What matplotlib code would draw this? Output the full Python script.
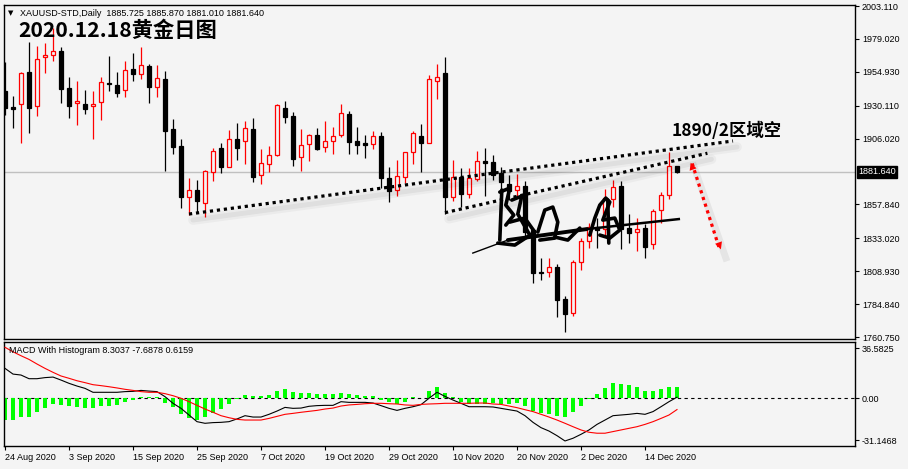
import matplotlib
matplotlib.use('Agg')
import matplotlib.pyplot as plt
import matplotlib.transforms as mtransforms
import numpy as np

# XAUUSD daily, 24 Aug 2020 .. 18 Dec 2020 (one bar per weekday)
opens = [1940.9, 1929.2, 1931.1, 1954.6, 1929.7, 1965.5, 1967.0, 1970.2, 1942.8, 1932.1,
         1931.4, 1929.7, 1932.6, 1947.0, 1945.3, 1941.4, 1957.0, 1953.1, 1959.4, 1943.6,
         1949.7, 1913.0, 1900.6, 1863.5, 1868.4, 1859.1, 1881.3, 1898.9, 1885.4, 1905.7,
         1904.3, 1913.0, 1879.1, 1887.2, 1893.8, 1928.4, 1922.6, 1892.3, 1901.8, 1908.7,
         1899.6, 1904.0, 1908.4, 1924.0, 1904.3, 1902.6, 1901.8, 1907.9, 1877.4, 1868.2,
         1877.7, 1896.0, 1907.9, 1902.6, 1948.0, 1953.8, 1863.5, 1877.7, 1865.7, 1876.7,
         1889.4, 1888.7, 1880.6, 1872.8, 1868.4, 1871.0, 1839.1, 1808.3, 1808.1, 1811.8,
         1788.4, 1778.0, 1815.4, 1830.8, 1841.1, 1839.5, 1862.0, 1871.3, 1840.8, 1837.6,
         1840.8, 1828.6, 1853.4, 1864.5, 1885.725]
highs = [1962.1, 1937.2, 1954.6, 1976.5, 1973.8, 1975.8, 1987.0, 1973.3, 1951.1, 1948.2,
         1941.6, 1940.9, 1951.1, 1966.7, 1954.6, 1962.8, 1968.7, 1973.1, 1960.6, 1959.9,
         1955.5, 1920.4, 1905.7, 1877.4, 1875.7, 1883.0, 1898.9, 1903.0, 1912.3, 1917.7,
         1918.9, 1920.9, 1898.2, 1900.6, 1931.4, 1933.8, 1925.5, 1913.0, 1909.4, 1913.8,
         1919.1, 1914.5, 1931.4, 1926.2, 1914.5, 1908.4, 1911.8, 1911.1, 1885.2, 1890.3,
         1896.4, 1911.4, 1916.7, 1952.6, 1960.6, 1966.0, 1890.3, 1884.5, 1884.5, 1896.9,
         1898.9, 1893.8, 1885.2, 1879.4, 1879.9, 1875.0, 1840.6, 1818.6, 1818.4, 1814.0,
         1790.8, 1817.5, 1833.0, 1844.0, 1848.0, 1868.9, 1875.7, 1875.0, 1850.8, 1847.7,
         1843.5, 1854.5, 1866.7, 1896.4, 1885.87]
lows = [1923.3, 1914.0, 1902.6, 1909.9, 1922.8, 1953.8, 1963.1, 1932.3, 1921.3, 1916.2,
        1924.2, 1905.9, 1919.9, 1941.1, 1936.5, 1936.7, 1948.4, 1949.4, 1932.3, 1936.7,
        1882.5, 1894.5, 1855.4, 1850.1, 1852.5, 1848.8, 1875.2, 1881.1, 1885.0, 1890.4,
        1887.4, 1874.5, 1872.8, 1881.8, 1893.3, 1917.7, 1886.0, 1882.5, 1889.4, 1897.7,
        1896.4, 1894.5, 1907.0, 1894.5, 1894.5, 1891.6, 1898.2, 1869.6, 1859.8, 1864.2,
        1873.3, 1887.2, 1881.8, 1902.6, 1935.2, 1850.6, 1860.5, 1856.2, 1862.7, 1875.0,
        1864.0, 1875.7, 1868.4, 1861.1, 1864.0, 1834.0, 1800.5, 1802.5, 1804.9, 1775.2,
        1764.6, 1776.5, 1809.8, 1825.9, 1826.0, 1835.0, 1856.0, 1825.3, 1829.3, 1824.0,
        1818.8, 1825.2, 1844.5, 1862.0, 1881.01]
closes = [1928.4, 1927.7, 1953.8, 1928.6, 1964.1, 1967.0, 1969.9, 1942.6, 1930.1, 1933.5,
          1927.5, 1931.4, 1947.2, 1945.8, 1939.6, 1956.0, 1953.5, 1959.9, 1944.0, 1950.2,
          1911.8, 1900.1, 1863.5, 1868.4, 1860.5, 1882.3, 1896.9, 1885.4, 1905.5, 1899.4,
          1913.6, 1878.1, 1887.9, 1893.8, 1930.4, 1922.1, 1890.9, 1901.1, 1908.4, 1898.4,
          1904.0, 1907.7, 1924.5, 1903.7, 1901.6, 1901.6, 1907.7, 1877.4, 1867.7, 1878.4,
          1896.0, 1909.9, 1903.0, 1949.4, 1950.9, 1863.0, 1877.7, 1865.5, 1877.0, 1889.4,
          1888.4, 1879.6, 1874.5, 1867.9, 1871.1, 1838.0, 1807.8, 1807.6, 1812.0, 1787.5,
          1777.4, 1815.4, 1830.9, 1841.1, 1839.0, 1862.7, 1870.4, 1840.0, 1836.7, 1839.6,
          1826.9, 1853.2, 1865.0, 1886.0, 1881.64]

macd_hist = [-16.2, -16.2, -14.0, -13.7, -10.0, -7.1, -4.4, -5.1, -5.9, -6.6,
             -7.1, -7.6, -6.1, -5.9, -5.1, -2.7, -1.5, 1.0, 0.8, 0.4,
             -3.4, -6.4, -11.8, -14.5, -16.2, -13.7, -10.8, -8.3, -4.4, -1.0,
             2.2, 1.5, 1.5, 2.2, 5.4, 6.9, 4.7, 3.7, 3.7, 2.9,
             2.9, 2.9, 3.7, 2.9, 2.2, 1.5, 1.5, -1.5, -3.0, -4.5,
             -2.8, 0.6, -0.3, 5.4, 7.8, 3.7, 0.7, -2.7, -4.2, -4.2,
             -4.2, -3.9, -4.2, -4.7, -3.4, -5.9, -9.6, -10.8, -12.0, -13.2,
             -14.0, -10.0, -5.6, -1.0, 2.9, 7.6, 10.8, 10.3, 9.6, 8.1,
             5.4, 5.4, 6.9, 8.3, 8.3]
macd_main = [21.8, 17.6, 16.9, 14.2, 14.2, 15.0, 15.4, 13.2, 10.8, 8.8,
             7.1, 4.2, 4.2, 4.2, 4.2, 4.7, 4.9, 5.6, 5.1, 4.7,
             1.0, -3.9, -7.6, -12.5, -17.4, -18.6, -18.1, -17.9, -17.4, -15.4,
             -13.0, -14.0, -14.0, -12.0, -9.6, -6.9, -7.6, -7.4, -6.1, -5.6,
             -5.4, -5.4, -2.7, -3.2, -3.2, -3.2, -3.7, -5.6, -7.6, -9.1,
             -7.6, -6.4, -4.9, -0.2, 4.2, 1.2, -1.5, -3.9, -6.4, -6.4,
             -6.4, -6.6, -7.6, -8.6, -9.6, -13.0, -17.9, -21.8, -24.3, -27.7,
             -31.6, -29.6, -26.7, -23.5, -19.4, -16.2, -13.0, -12.5, -12.0, -11.3,
             -12.0, -10.0, -6.4, -2.7, 0.6]
macd_signal = [37.3, 34.0, 31.1, 28.4, 25.0, 21.8, 18.9, 16.2, 14.5, 12.7,
               11.3, 9.8, 9.1, 8.3, 7.4, 6.4, 5.6, 4.7, 4.2, 4.2,
               3.2, 1.7, -0.2, -2.7, -5.4, -8.1, -10.5, -13.0, -14.5, -15.7,
               -16.2, -16.2, -16.2, -15.0, -13.5, -12.0, -11.3, -10.5, -9.8, -9.1,
               -8.1, -7.4, -5.9, -5.1, -4.7, -4.2, -3.9, -3.9, -4.2, -4.4,
               -5.1, -5.4, -4.7, -4.4, -4.2, -3.9, -3.9, -3.9, -3.9, -3.7,
               -3.7, -4.4, -4.7, -5.9, -7.1, -8.6, -10.0, -12.0, -14.0, -16.2,
               -18.6, -21.1, -23.5, -25.2, -25.9, -25.9, -24.7, -23.5, -22.3, -21.1,
               -19.4, -17.4, -15.0, -12.5, -8.5]

date_pos = [0, 8, 16, 24, 32, 40, 48, 56, 64, 72, 80]
date_labels = ['24 Aug 2020', '3 Sep 2020', '15 Sep 2020', '25 Sep 2020', '7 Oct 2020',
               '19 Oct 2020', '29 Oct 2020', '10 Nov 2020', '20 Nov 2020', '2 Dec 2020',
               '14 Dec 2020']
price_ticks = [2003.110, 1979.020, 1954.930, 1930.110, 1906.020,
               1857.840, 1833.020, 1808.930, 1784.840, 1760.750]
last_price = 1881.640
macd_ticks = [36.5825, 0.0, -31.1468]
macd_tick_labels = ['36.5825', '0.00', '-31.1468']

# hand drawn objects on the chart (bar index, price)
line1_x, line1_y = [23, 91], [1850.8, 1904.3]
line2_x, line2_y = [55, 87.8], [1851.8, 1895.3]
arrow_top, arrow_bottom = (85.6, 1890.3), (89.6, 1823.0)

# signature scribble, in pixels from its top-left corner (anchored at bar 58.1 / 1872)
sig_anchor = (58.1, 1872.0)
sig_strokes = [
    [(32, 5), (30, 55)],
    [(30, 7), (40, 3), (36, 20), (44, 30), (36, 40)],
    [(42, 15), (52, 11), (48, 29), (60, 50)],
    [(40, 37), (55, 33), (65, 47), (45, 60), (28, 58)],
    [(68, 47), (75, 25), (83, 22), (88, 37), (85, 52), (98, 55), (110, 43)],
    [(70, 55), (85, 53)],
    [(120, 50), (125, 33), (130, 20), (136, 13), (140, 17), (133, 35), (145, 33),
     (150, 45), (140, 53), (130, 50)],
    [(138, 15), (139, 58)],
]
sig_swoosh = [(3, 68), (38, 55), (117, 44), (209, 34)]

BG = '#F4F4F4'
SMALL = dict(family='Liberation Sans', fontsize=6.5)
CJK = ['Noto Sans CJK SC', 'DejaVu Sans']

fig = plt.figure(figsize=(9.08, 4.69), dpi=100, facecolor=BG)
ax = fig.add_axes([4 / 908, 1 - 339 / 469, 851 / 908, 334 / 469], facecolor=BG)
ax2 = fig.add_axes([4 / 908, 1 - 446 / 469, 851 / 908, 104 / 469], facecolor=BG)

ax.set_xlim(-0.125, 106.25)
ax.set_ylim(1759.3, 2003.85)
ax2.set_xlim(-0.125, 106.25)
ax2.set_ylim(-35.3, 41.2)

o = np.array(opens)
h = np.array(highs)
l = np.array(lows)
c = np.array(closes)
x = np.arange(len(o))
up = c > o
wick_col = np.where(up, 'red', 'black')

ax.axhline(last_price, color='#C0C0C0', lw=1, zorder=1)
ax.vlines(x, l, h, colors=wick_col, lw=0.9, zorder=2)
body_lo = np.minimum(o, c)
body_h = np.maximum(np.abs(c - o), 0.7)
ax.bar(x[up], body_h[up], bottom=body_lo[up], width=0.6, facecolor=BG,
       edgecolor='red', lw=0.9, zorder=3)
ax.bar(x[~up], body_h[~up], bottom=body_lo[~up], width=0.6, facecolor='black',
       edgecolor='black', lw=0.9, zorder=3)

# dotted trend lines with a soft shadow
shadow = mtransforms.offset_copy(ax.transData, fig=fig, x=4, y=-6, units='dots')
for lx, ly in [(line1_x, line1_y), (line2_x, line2_y)]:
    ax.plot(lx, ly, color='black', lw=7, alpha=0.035, transform=shadow, zorder=4,
            solid_capstyle='round')
    ax.plot(lx, ly, color='black', lw=3.5, alpha=0.05, transform=shadow, zorder=4,
            solid_capstyle='round')
    ax.plot(lx, ly, color='black', lw=2.3, ls=(0, (1, 1.2)), dash_capstyle='butt', zorder=5)

ax.plot([arrow_top[0], arrow_bottom[0]], [arrow_top[1], arrow_bottom[1]], color='black',
        lw=5, alpha=0.06, transform=shadow, zorder=4)
ax.plot([arrow_top[0] + 0.3, arrow_bottom[0] - 0.3], [arrow_top[1] - 2.5, arrow_bottom[1] + 2.5],
        color='red', lw=2.3, ls=(0, (1, 1.2)), dash_capstyle='butt', zorder=5)
for tip, tail in [(arrow_top, arrow_bottom), (arrow_bottom, arrow_top)]:
    dx, dy = tail[0] - tip[0], tail[1] - tip[1]
    ax.annotate('', xy=tip, xytext=(tip[0] + dx * 0.12, tip[1] + dy * 0.12),
                arrowprops=dict(arrowstyle='-|>', color='red', lw=0, mutation_scale=13),
                zorder=6)

# signature
ax_px = ax.transData.transform(sig_anchor)
sig_tr = mtransforms.Affine2D().scale(1, -1).translate(ax_px[0], ax_px[1])
for st in sig_strokes:
    sx, sy = zip(*st)
    ax.plot(sx, sy, color='black', lw=2.6, transform=sig_tr, zorder=7,
            solid_capstyle='round', solid_joinstyle='round')
sx, sy = zip(*sig_swoosh)
ax.plot(sx[:2], sy[:2], color='black', lw=1.0, transform=sig_tr, zorder=7)
ax.plot(sx[1:3], sy[1:3], color='black', lw=2.8, transform=sig_tr, zorder=7,
        solid_capstyle='round')
ax.plot(sx[2:], sy[2:], color='black', lw=1.8, transform=sig_tr, zorder=7)

ax.yaxis.tick_right()
ax.set_yticks(price_ticks)
ax.set_yticklabels(['%.3f' % v for v in price_ticks], **SMALL)
ax.tick_params(axis='y', length=3, width=0.8, pad=2, colors='black')
ax.tick_params(axis='x', bottom=False, labelbottom=False)
ax.text(1.0035, last_price, '%.3f' % last_price, transform=ax.get_yaxis_transform(),
        color='white', va='center', ha='left', zorder=10,
        bbox=dict(boxstyle='square,pad=0.15', facecolor='black', edgecolor='black'),
        clip_on=False, **SMALL)

# MACD panel
ax2.bar(x, macd_hist, width=0.42, color='#00FF00', zorder=2)
ax2.plot(x, macd_main, color='black', lw=0.8, zorder=3)
ax2.plot(x, macd_signal, color='red', lw=0.8, zorder=3)
ax2.axhline(0, color='black', lw=0.8, ls=(0, (3, 3)), zorder=1)
ax2.yaxis.tick_right()
ax2.set_yticks(macd_ticks)
ax2.set_yticklabels(macd_tick_labels, **SMALL)
ax2.tick_params(axis='y', length=3, width=0.8, pad=2)
ax2.set_xticks(date_pos)
ax2.set_xticklabels(date_labels, ha='left', **SMALL)
ax2.tick_params(axis='x', length=3, width=0.8, pad=2)

for a in (ax, ax2):
    for s in a.spines.values():
        s.set_linewidth(1)
        s.set_color('black')

fig.text(8 / 908, 1 - 13 / 469, '\u25bc', fontsize=5, va='center', family='DejaVu Sans')
fig.text(20 / 908, 1 - 13 / 469, 'XAUUSD-STD,Daily  1885.725 1885.870 1881.010 1881.640',
         va='center', **SMALL)
fig.text(18 / 908, 1 - 30 / 469, '2020.12.18黄金日图', fontsize=15.3, weight='bold',
         family=CJK, va='center')
fig.text(672 / 908, 1 - 131 / 469, '1890/2区域空', fontsize=12.5, weight='bold',
         family=CJK, va='center')
fig.text(9 / 908, 1 - 350 / 469, 'MACD With Histogram 8.3037 -7.6878 0.6159',
         va='center', **SMALL)

fig.savefig('out.png', dpi=100, facecolor=BG)
